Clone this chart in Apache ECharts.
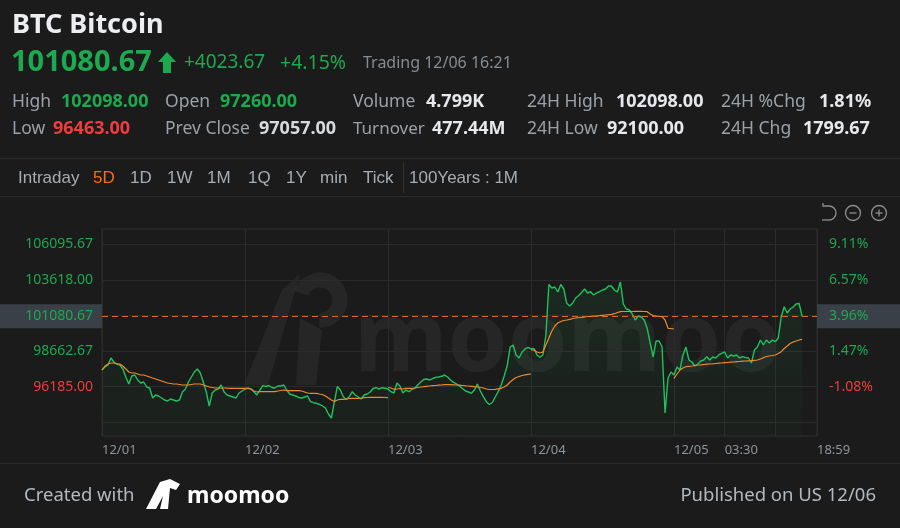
<!DOCTYPE html>
<html>
<head>
<meta charset="utf-8">
<script src="https://cdn.jsdelivr.net/npm/echarts@6/dist/echarts.min.js"></script>
<style>
  html, body { margin: 0; padding: 0; background: #1b1b1b; }
  #main { width: 900px; height: 528px; }
</style>
</head>
<body>
<div id="main"></div>
<script>
// 5D intraday, one point every 30 min, 48 points per day
const priceDay1 = [97347, 97556, 97695, 98182, 97904, 97765, 97695, 97417, 96860, 96373, 96930, 96999, 96651, 96442, 96512, 96164, 96094, 95398, 95607, 95538, 95398, 95259, 95190, 95329, 95259, 95190, 95259, 95816, 96025, 96512, 96860, 97208, 97417, 97138, 96512, 95816, 94842, 95746, 95955, 96025, 96303, 95816, 95607, 95538, 95468, 95398, 95746, 95886, 96025];
const priceDay2 = [96094, 96025, 95837, 95607, 95955, 96255, 96199, 96269, 96129, 96094, 96234, 96234, 96303, 95955, 95677, 95607, 95538, 95433, 95398, 95468, 95538, 95141, 95071, 95029, 94946, 94842, 94702, 94285, 94006, 95120, 96199, 95955, 95489, 95294, 95489, 95837, 95607, 95468, 95329, 95607, 95677, 95816, 96060, 96115, 96025, 96115, 96073, 96025];
const priceDay3 = [95837, 95746, 96442, 96234, 95746, 95955, 95837, 95990, 96094, 96303, 96512, 96686, 96721, 96651, 96755, 96839, 96860, 96909, 96999, 96860, 96651, 96477, 96373, 96234, 96060, 95886, 95816, 95725, 95955, 96373, 95886, 95489, 95141, 94946, 95085, 95468, 95837, 96303, 96930, 97626, 98948, 99087, 98391, 98182, 98600, 98809, 98913, 98809];
const priceDay4 = [98844, 98391, 98231, 98391, 99783, 103298, 103054, 103124, 102776, 103298, 102985, 101989, 101802, 102010, 102358, 102532, 102741, 102985, 102706, 102797, 102567, 102706, 102797, 102915, 102985, 103194, 103194, 102915, 102776, 103472, 101941, 101593, 101523, 101245, 100827, 101106, 101036, 100827, 100250, 99226, 98252, 99366, 99366, 98948, 94354, 96790, 97208, 96999];
const priceDay5 = [97556, 97347, 98391, 98948, 98043, 97904, 97626, 97765, 97974, 98043, 98273, 98043, 98252, 98182, 98391, 98496, 98600, 98182, 98391, 98322, 98391, 98182, 98273, 98217, 98182, 97834, 98739, 98948, 99435, 99087, 99435, 99226, 99435, 99317, 99574, 101057, 101753, 101314, 101593, 101732, 101941, 101976, 101081];

// average price line, restarts each session
const avgDay12 = [97347, 97626, 97765, 97834, 97834, 97765, 97765, 97626, 97417, 97208, 97138, 97138, 97069, 96999, 96999, 96930, 96860, 96790, 96721, 96651, 96582, 96512, 96442, 96408, 96373, 96373, 96338, 96303, 96303, 96303, 96338, 96373, 96373, 96373, 96303, 96234, 96164, 96129, 96094, 96094, 96094, 96094, 96080, 96073, 96073, 96073, 96073, 96073, 96073,
  96060, 96025, 95886, 95816, 95837, 95837, 95837, 95837, 95837, 95837, 95886, 95920, 95955, 95920, 95906, 95906, 95906, 95906, 95886, 95816, 95746, 95725, 95725, 95725, 95677, 95642, 95538, 95398, 95259, 95155, 95259, 95308, 95308, 95329, 95364, 95378, 95378, 95378, 95398, 95419, 95433, 95447, 95447, 95447, 95447, 95447, 95433, 95419];
const avgDay3 = [96129, 96094, 96004, 96025, 96060, 96025, 96073, 96073, 96073, 96094, 96129, 96164, 96185, 96213, 96234, 96255, 96269, 96290, 96303, 96324, 96324, 96324, 96317, 96303, 96290, 96269, 96248, 96234, 96213, 96185, 96164, 96129, 96094, 96025, 95990, 95990, 96004, 96039, 96073, 96164, 96303, 96512, 96686, 96825, 96895, 96965, 97013, 97048, 97069];
const avgDay4 = [98739, 98739, 98600, 98530, 98600, 99087, 99574, 100062, 100410, 100618, 100723, 100792, 100827, 100876, 100932, 100966, 101001, 101015, 101036, 101071, 101085, 101106, 101106, 101127, 101155, 101175, 101196, 101224, 101266, 101349, 101405, 101419, 101419, 101419, 101419, 101433, 101433, 101433, 101419, 101405, 101245, 101140, 101106, 101071, 101057, 100827, 100250, 100236, 100201];
const avgDay5 = [96770, 97069, 97347, 97486, 97577, 97605, 97626, 97661, 97695, 97709, 97730, 97751, 97765, 97779, 97800, 97821, 97834, 97855, 97869, 97890, 97904, 97925, 97939, 97960, 97974, 97988, 97995, 98022, 98043, 98113, 98203, 98287, 98322, 98356, 98391, 98496, 98621, 98844, 99018, 99192, 99296, 99366, 99435, 99484];
const avgStart = [0, 96, 144, 192];

const slotCount = 241;
const tickIdx = [0, 48, 96, 144, 192, 209, 226, 240];
const tickText = ['12/01', '12/02', '12/03', '12/04', '12/05', '03:30', '', '18:59'];

const yMin = 92753, yMax = 107161;
const gridValues = [93707.33, 96185, 98662.67, 101140.33, 103618, 106095.67];
const labelValues = [96185, 98662.67, 103618, 106095.67];
const pctLabels = ['-1.08%', '1.47%', '6.57%', '9.11%'];
const lastPrice = 101080.67;
const lastPct = '3.96%';

const GREEN = '#1ca94f', RED = '#f03c3c', GRAY = '#9aa1a9', WHITE = '#e6e8eb';
const FONT = "'Noto Sans', 'Open Sans', sans-serif";
const NARROW = "'Liberation Sans', Arial, sans-serif";

const price = [].concat(priceDay1, priceDay2, priceDay3, priceDay4, priceDay5);
const categories = Array.from({ length: slotCount }, (_, i) => String(i));
const pctFor = v => {
  let k = 0;
  labelValues.forEach((lv, i) => { if (Math.abs(lv - v) < Math.abs(labelValues[k] - v)) k = i; });
  return pctLabels[k];
};

const chart = echarts.init(document.getElementById('main'));

function txt(x, y, text, color, size, weight, align, family) {
  return {
    type: 'text', x: x, y: y, silent: true,
    style: { text: text, fill: color, fontSize: size, fontWeight: weight || 'normal', fontFamily: family || FONT, align: align || 'left', verticalAlign: 'middle' }
  };
}
function hline(y, x1, x2, color) {
  return { type: 'line', silent: true, shape: { x1: x1, y1: y, x2: x2, y2: y }, style: { stroke: color, lineWidth: 1 } };
}

const avgSeries = [avgDay12, avgDay3, avgDay4, avgDay5].map((seg, k) => {
  const data = new Array(slotCount).fill(null);
  seg.forEach((v, i) => { data[avgStart[k] + i] = v; });
  return {
    name: 'Avg', type: 'line', data: data, symbol: 'none', connectNulls: false, z: 4,
    lineStyle: { color: '#f0892a', width: 1.2 }
  };
});
// right price tag rides on the first avg series
avgSeries[0].markLine = {
  symbol: 'none', silent: true, animation: false,
  lineStyle: { color: '#d9691c', type: [6, 4], width: 1 },
  label: {
    show: true, position: 'end', distance: 0, formatter: lastPct, color: GREEN, fontSize: 14, fontFamily: FONT,
    backgroundColor: '#3a4048', padding: [5, 0, 5, 12], width: 71, align: 'left'
  },
  data: [{ yAxis: lastPrice }]
};

const toolbar = [['Intraday', 18], ['5D', 93], ['1D', 130], ['1W', 167], ['1M', 207], ['1Q', 248], ['1Y', 286], ['min', 320], ['Tick', 363], ['100Years : 1M', 409]];

const WM = 'rgba(255,255,255,0.05)';
const LS = 17.5;
const graphics = [
  txt(12, 25, 'BTC Bitcoin', '#eceef2', 27, 'bold'),
  txt(11, 63, '101080.67', GREEN, 29, 'bold'),
  { type: 'polygon', silent: true, shape: { points: [[167, 52], [176, 62], [171, 62], [171, 73], [163, 73], [163, 62], [158, 62]] }, style: { fill: GREEN } },
  txt(184, 63, '+4023.67', GREEN, 19),
  txt(280, 63, '+4.15%', GREEN, 19.5),
  txt(363, 63, 'Trading 12/06 16:21', '#868c94', 16),

  txt(12, 102, 'High', GRAY, LS), txt(61, 102, '102098.00', GREEN, 18, 'bold'),
  txt(165, 102, 'Open', GRAY, LS), txt(220, 102, '97260.00', GREEN, 18, 'bold'),
  txt(353, 102, 'Volume', GRAY, LS), txt(426, 102, '4.799K', WHITE, 18, 'bold'),
  txt(527, 102, '24H High', GRAY, LS), txt(616, 102, '102098.00', WHITE, 18, 'bold'),
  txt(721, 102, '24H %Chg', GRAY, LS), txt(819, 102, '1.81%', WHITE, 18, 'bold'),

  txt(12, 129, 'Low', GRAY, LS), txt(53, 129, '96463.00', RED, 18, 'bold'),
  txt(165, 129, 'Prev Close', GRAY, LS), txt(259, 129, '97057.00', '#d7dade', 18, 'bold'),
  txt(353, 129, 'Turnover', GRAY, 17), txt(432, 129, '477.44M', WHITE, 18, 'bold'),
  txt(527, 129, '24H Low', GRAY, LS), txt(607, 129, '92100.00', WHITE, 18, 'bold'),
  txt(721, 129, '24H Chg', GRAY, LS), txt(803, 129, '1799.67', WHITE, 18, 'bold'),

  hline(158.5, 0, 900, '#2a2a2a'),
  hline(196.5, 0, 900, '#2a2a2a'),
  { type: 'line', silent: true, shape: { x1: 403.5, y1: 162, x2: 403.5, y2: 193 }, style: { stroke: '#333', lineWidth: 1 } },

  // chart zoom icons
  { type: 'arc', silent: true, shape: { cx: 829, cy: 213, r: 7, startAngle: -Math.PI / 2, endAngle: Math.PI / 2, clockwise: true }, style: { stroke: '#8d8d8d', lineWidth: 1.3, fill: 'none' } },
  { type: 'polyline', silent: true, shape: { points: [[823, 203], [823, 206], [829, 206]] }, style: { stroke: '#8d8d8d', lineWidth: 1.3, fill: 'none' } },
  { type: 'line', silent: true, shape: { x1: 822, y1: 220, x2: 829, y2: 220 }, style: { stroke: '#8d8d8d', lineWidth: 1.3 } },
  { type: 'circle', silent: true, shape: { cx: 853, cy: 213, r: 7.5 }, style: { stroke: '#8d8d8d', lineWidth: 1.3, fill: 'none' } },
  { type: 'line', silent: true, shape: { x1: 849.5, y1: 213, x2: 856.5, y2: 213 }, style: { stroke: '#8d8d8d', lineWidth: 1.3 } },
  { type: 'circle', silent: true, shape: { cx: 879, cy: 213, r: 7.5 }, style: { stroke: '#8d8d8d', lineWidth: 1.3, fill: 'none' } },
  { type: 'line', silent: true, shape: { x1: 875.5, y1: 213, x2: 882.5, y2: 213 }, style: { stroke: '#8d8d8d', lineWidth: 1.3 } },
  { type: 'line', silent: true, shape: { x1: 879, y1: 209.5, x2: 879, y2: 216.5 }, style: { stroke: '#8d8d8d', lineWidth: 1.3 } },

  // watermark
  { type: 'polygon', silent: true, z: -1, shape: { points: [[244, 385], [282, 290], [300, 274], [268, 385]] }, style: { fill: WM } },
  { type: 'arc', silent: true, z: -1, shape: { cx: 320, cy: 300, r: 20, startAngle: -2.8, endAngle: 1.6 }, style: { stroke: WM, lineWidth: 15, fill: 'none' } },
  { type: 'polygon', silent: true, z: -1, shape: { points: [[300, 318], [322, 330], [316, 385], [296, 385]] }, style: { fill: WM } },
  { type: 'text', silent: true, z: -1, x: 354, y: 344, style: { text: 'moomoo', fill: WM, fontSize: 96, fontFamily: FONT, fontWeight: 'bold', verticalAlign: 'middle' } },

  // footer
  hline(463.5, 0, 900, '#2a2a2a'),
  txt(24, 496, 'Created with', '#b3b9c1', 18.5),
  { type: 'polygon', silent: true, shape: { points: [[146, 509], [160, 482], [170, 479], [180, 484], [176, 490], [170, 488], [168, 509], [160, 509], [163, 496], [156, 509]] }, style: { fill: '#ffffff' } },
  txt(187, 496, 'moomoo', '#ffffff', 23, 'bold'),
  txt(876, 496, 'Published on US 12/06', '#b3b9c1', 18.5, 'normal', 'right')
];
toolbar.forEach(([t, x]) => graphics.push(txt(x, 178, t, t === '5D' ? '#ff6a0d' : '#a6adb5', 17, 'normal', 'left', NARROW)));

const option = {
  backgroundColor: '#1b1b1b',
  animation: false,
  grid: { left: 102, right: 83, top: 229, bottom: 92, show: true, borderColor: '#2e2e2e', borderWidth: 1 },
  xAxis: {
    type: 'category', data: categories, boundaryGap: false,
    axisLine: { show: false }, axisTick: { show: false },
    axisLabel: {
      interval: i => tickIdx.includes(i),
      formatter: (v, i) => tickText[tickIdx.indexOf(i)] || '',
      color: '#8e949b', fontSize: 13, fontFamily: FONT, align: 'left', margin: 8
    },
    splitLine: { show: true, interval: i => tickIdx.includes(i), lineStyle: { color: '#2b2b2b' } }
  },
  yAxis: [
    {
      type: 'value', min: yMin, max: yMax,
      axisLine: { show: false },
      axisTick: { show: false, customValues: gridValues },
      splitLine: { show: true, lineStyle: { color: '#2b2b2b' } },
      axisLabel: {
        customValues: labelValues, margin: 9, fontSize: 14, fontFamily: FONT,
        formatter: v => v.toFixed(2),
        color: v => pctFor(v).charAt(0) === '-' ? RED : GREEN
      }
    },
    {
      type: 'value', min: yMin, max: yMax, position: 'right',
      axisLine: { show: false }, axisTick: { show: false, customValues: gridValues },
      splitLine: { show: false },
      axisLabel: {
        customValues: labelValues, margin: 12, fontSize: 14, fontFamily: FONT,
        formatter: v => pctFor(v),
        color: v => pctFor(v).charAt(0) === '-' ? RED : GREEN
      }
    }
  ],
  series: [
    {
      name: 'Price', type: 'line', data: price, symbol: 'none', z: 3,
      lineStyle: { color: '#1fc25c', width: 1.4 },
      areaStyle: {
        origin: 'start',
        color: new echarts.graphic.LinearGradient(0, 0, 0, 1, [
          { offset: 0, color: 'rgba(30,190,90,0.13)' },
          { offset: 1, color: 'rgba(30,190,90,0.03)' }
        ])
      },
      markLine: {
        symbol: 'none', silent: true, animation: false,
        lineStyle: { color: '#d9691c', type: [6, 4], width: 1 },
        label: {
          show: true, position: 'start', distance: 0, formatter: '101080.67', color: GREEN, fontSize: 14, fontFamily: FONT,
          backgroundColor: '#3a4048', padding: [5, 9, 5, 0], width: 93, align: 'right'
        },
        data: [{ yAxis: lastPrice }]
      }
    }
  ].concat(avgSeries),
  graphic: graphics
};
chart.setOption(option);
</script>
</body>
</html>
